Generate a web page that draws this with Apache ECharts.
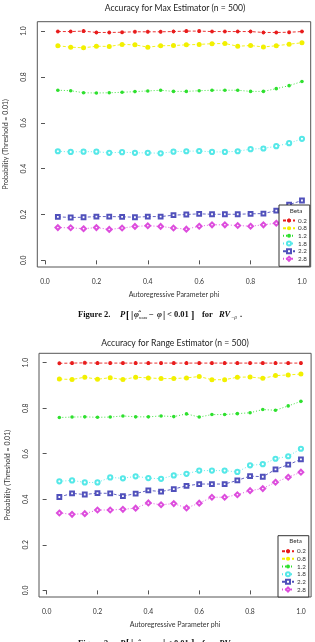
<!DOCTYPE html>
<html><head><meta charset="utf-8">
<script src="https://cdn.jsdelivr.net/npm/echarts@6/dist/echarts.min.js"></script>
<style>html,body{margin:0;padding:0;background:#fff;overflow:hidden}#c{width:315px;height:642px;}</style>
</head><body><div id="c"></div>
<script>
// ---------- data ----------
const phi = [0.05,0.10,0.15,0.20,0.25,0.30,0.35,0.40,0.45,0.50,0.55,0.60,0.65,0.70,0.75,0.80,0.85,0.90,0.95,1.00];
const betaNames = ['0.2','0.8','1.2','1.8','2.2','2.8'];
const xTicks = [0,0.2,0.4,0.6,0.8,1.0];
const yTicks = [0,0.2,0.4,0.6,0.8,1.0];

// Max estimator (Figure 2)
const maxB02 = [0.998,0.998,1.000,0.994,0.994,0.995,0.997,0.997,0.997,0.998,1.000,1.000,0.998,0.998,0.998,0.998,0.994,0.994,0.995,0.998];
const maxB08 = [0.936,0.930,0.927,0.934,0.933,0.942,0.940,0.930,0.936,0.937,0.940,0.942,0.945,0.946,0.934,0.937,0.931,0.936,0.943,0.949];
const maxB12 = [0.742,0.740,0.731,0.730,0.731,0.733,0.736,0.739,0.742,0.737,0.737,0.740,0.742,0.742,0.742,0.737,0.737,0.749,0.762,0.780];
const maxB18 = [0.476,0.473,0.474,0.474,0.469,0.472,0.469,0.469,0.467,0.474,0.476,0.477,0.473,0.473,0.476,0.485,0.488,0.498,0.511,0.530];
const maxB22 = [0.190,0.187,0.188,0.191,0.191,0.190,0.188,0.191,0.191,0.197,0.200,0.203,0.201,0.201,0.201,0.203,0.204,0.217,0.243,0.261];
const maxB28 = [0.143,0.142,0.138,0.143,0.135,0.141,0.148,0.151,0.148,0.141,0.136,0.149,0.155,0.155,0.152,0.149,0.155,0.162,0.175,0.188];

// Range estimator (Figure 3)
const ranB02 = [0.997,0.998,0.999,0.998,0.998,0.998,0.998,0.998,0.998,0.998,0.998,0.998,0.998,0.998,0.998,0.998,0.998,0.998,0.998,0.998];
const ranB08 = [0.928,0.926,0.936,0.927,0.934,0.926,0.936,0.933,0.930,0.930,0.933,0.939,0.925,0.925,0.936,0.937,0.931,0.943,0.946,0.950];
const ranB12 = [0.759,0.761,0.762,0.760,0.761,0.766,0.762,0.762,0.766,0.763,0.775,0.761,0.772,0.772,0.776,0.780,0.794,0.791,0.810,0.830];
const ranB18 = [0.479,0.483,0.474,0.474,0.496,0.492,0.501,0.493,0.490,0.505,0.512,0.526,0.526,0.526,0.520,0.549,0.554,0.578,0.589,0.622];
const ranB22 = [0.410,0.426,0.421,0.427,0.426,0.414,0.425,0.439,0.434,0.445,0.459,0.467,0.467,0.467,0.483,0.502,0.499,0.531,0.552,0.575];
const ranB28 = [0.340,0.334,0.337,0.353,0.353,0.356,0.361,0.384,0.376,0.381,0.362,0.383,0.409,0.409,0.420,0.438,0.447,0.475,0.497,0.519];

const maxSets = [maxB02,maxB08,maxB12,maxB18,maxB22,maxB28];
const ranSets = [ranB02,ranB08,ranB12,ranB18,ranB22,ranB28];

// ---------- styles ----------
const FONT = 'Lato, "Open Sans", sans-serif';
const styles = [
  {color:'#e81c1c', symbol:'path://M5,0L5,10M0,5L10,5M1.5,1.5L8.5,8.5M1.5,8.5L8.5,1.5', size:4, dash:[3,2], border:1.1},
  {color:'#f2f000', symbol:'circle', size:5, dash:[3,2]},
  {color:'#2ee02e', symbol:'circle', size:3.6, dash:[1,2]},
  {color:'#55e8e8', symbol:'emptyCircle', size:4.2, dash:[1,2]},
  {color:'#5050bb', symbol:'emptyRect', size:3.8, dash:[3,2]},
  {color:'#dd4ddd', symbol:'emptyDiamond', size:4.8, dash:[1,2]}
];

function mkSeries(sets, idx){
  return sets.map((arr,k)=>{
    const s = styles[k];
    const it = {color:s.color};
    if (s.border){ it.borderColor = s.color; it.borderWidth = s.border; }
    else if (s.symbol.indexOf('empty')===0){ it.borderWidth = 0.8; }
    return {
      type:'line', name:betaNames[k], xAxisIndex:idx, yAxisIndex:idx,
      data: phi.map((x,i)=>[x, arr[i]]),
      symbol:s.symbol, symbolSize:s.size, showSymbol:true,
      itemStyle: it,
      lineStyle:{color:s.color, width:0.9, type:s.dash},
      animation:false, silent:true, z:2
    };
  });
}

function mkX(idx, min, max){
  return {gridIndex:idx, type:'value', min:min, max:max,
    axisLine:{show:false}, splitLine:{show:false},
    axisTick:{show:true, customValues:xTicks, length:4, lineStyle:{color:'#555', width:1}},
    axisLabel:{customValues:xTicks, formatter:v=>v.toFixed(1), fontSize:6.8, margin:11, color:'#333', fontFamily:FONT},
    name:'Autoregressive Parameter phi', nameLocation:'middle', nameGap:24,
    nameTextStyle:{fontSize:7, color:'#333', fontFamily:FONT}
  };
}
function mkY(idx){
  return {gridIndex:idx, type:'value', min:-0.029, max:1.041,
    axisLine:{show:false}, splitLine:{show:false},
    axisTick:{show:true, customValues:yTicks, length:4, lineStyle:{color:'#555', width:1}},
    axisLabel:{customValues:yTicks, formatter:v=>v.toFixed(1), fontSize:6.8, margin:10, rotate:90, color:'#333', fontFamily:FONT},
    name:'Probability (Threshold = 0.01)', nameLocation:'middle', nameGap:28, nameRotate:90,
    nameTextStyle:{fontSize:7, color:'#333', fontFamily:FONT}
  };
}
function mkLegend(left, top){
  return {show:true, orient:'vertical', left:left, top:top, data:betaNames,
    itemWidth:12, itemHeight:5, itemGap:0.66, padding:[12,3,4,3],
    borderColor:'#333', borderWidth:1, backgroundColor:'#fff', borderRadius:0,
    textStyle:{fontSize:6.3, lineHeight:7, color:'#333', fontFamily:FONT, padding:[0,0,0,-2]},
    selectedMode:false, z:10
  };
}

function caption(num, sub, cy){
  const f = 'bold 8.5px "Liberation Serif", "DejaVu Serif", serif';
  const fi = 'bold italic 8.5px "Liberation Serif", "DejaVu Serif", serif';
  const fs = 'italic 5px "Liberation Serif", "DejaVu Serif", serif';
  const parts = [
    [78, 'Figure ' + num + '.', f, 0],
    [120, 'P', fi, 0],
    [126, '[', 'bold 10px "Liberation Serif", serif', 0],
    [131, '|', 'bold 10px "Liberation Serif", serif', 0],
    [134, 'φ̂', fi, 0],
    [139, sub, fs, 2.5],
    [149, '−', f, 0],
    [157, 'φ', fi, 0],
    [163, '|', 'bold 10px "Liberation Serif", serif', 0],
    [167, '< 0.01', f, 0],
    [191, ']', 'bold 10px "Liberation Serif", serif', 0],
    [202, 'for', f, 0],
    [219, 'RV', fi, 0],
    [231, '−β', fs, 2.5],
    [240, '.', f, 0]
  ];
  return parts.map(p=>({type:'text', x:p[0], y:cy + p[3], silent:true,
    style:{text:p[1], font:p[2], fill:'#111', verticalAlign:'middle', align:'left'}}));
}

const graphics = [
  {type:'text', x:175, y:8, silent:true, style:{text:'Accuracy for Max Estimator (n = 500)', font:'8.6px ' + FONT, fill:'#222', align:'center', verticalAlign:'middle'}},
  {type:'text', x:175, y:343.3, silent:true, style:{text:'Accuracy for Range Estimator (n = 500)', font:'8.6px ' + FONT, fill:'#222', align:'center', verticalAlign:'middle'}},
  {type:'text', x:296, y:210.5, z:100, silent:true, style:{text:'Beta', font:'6.3px ' + FONT, fill:'#333', align:'center', verticalAlign:'middle'}},
  {type:'text', x:295.5, y:541, z:100, silent:true, style:{text:'Beta', font:'6.3px ' + FONT, fill:'#333', align:'center', verticalAlign:'middle'}}
].concat(caption(2,'max',315)).concat(caption(3,'ran',643.5));

const chart = echarts.init(document.getElementById('c'), null, {renderer:'canvas'});
chart.setOption({
  animation:false,
  backgroundColor:'#fff',
  grid:[
    {left:37.3, top:21.7, width:273.4, height:245.3, show:true, borderColor:'#555', borderWidth:1, backgroundColor:'transparent', z:3, containLabel:false, outerBoundsMode:'none'},
    {left:39, top:353.3, width:272.1, height:243.7, show:true, borderColor:'#555', borderWidth:1, backgroundColor:'transparent', z:3, containLabel:false, outerBoundsMode:'none'}
  ],
  xAxis:[mkX(0,-0.03,1.034), mkX(1,-0.03,1.04)],
  yAxis:[mkY(0), mkY(1)],
  legend:[mkLegend(279,205), mkLegend(278,535.7)],
  series: mkSeries(maxSets,0).concat(mkSeries(ranSets,1)),
  graphic: graphics
});
</script>
</body></html>
